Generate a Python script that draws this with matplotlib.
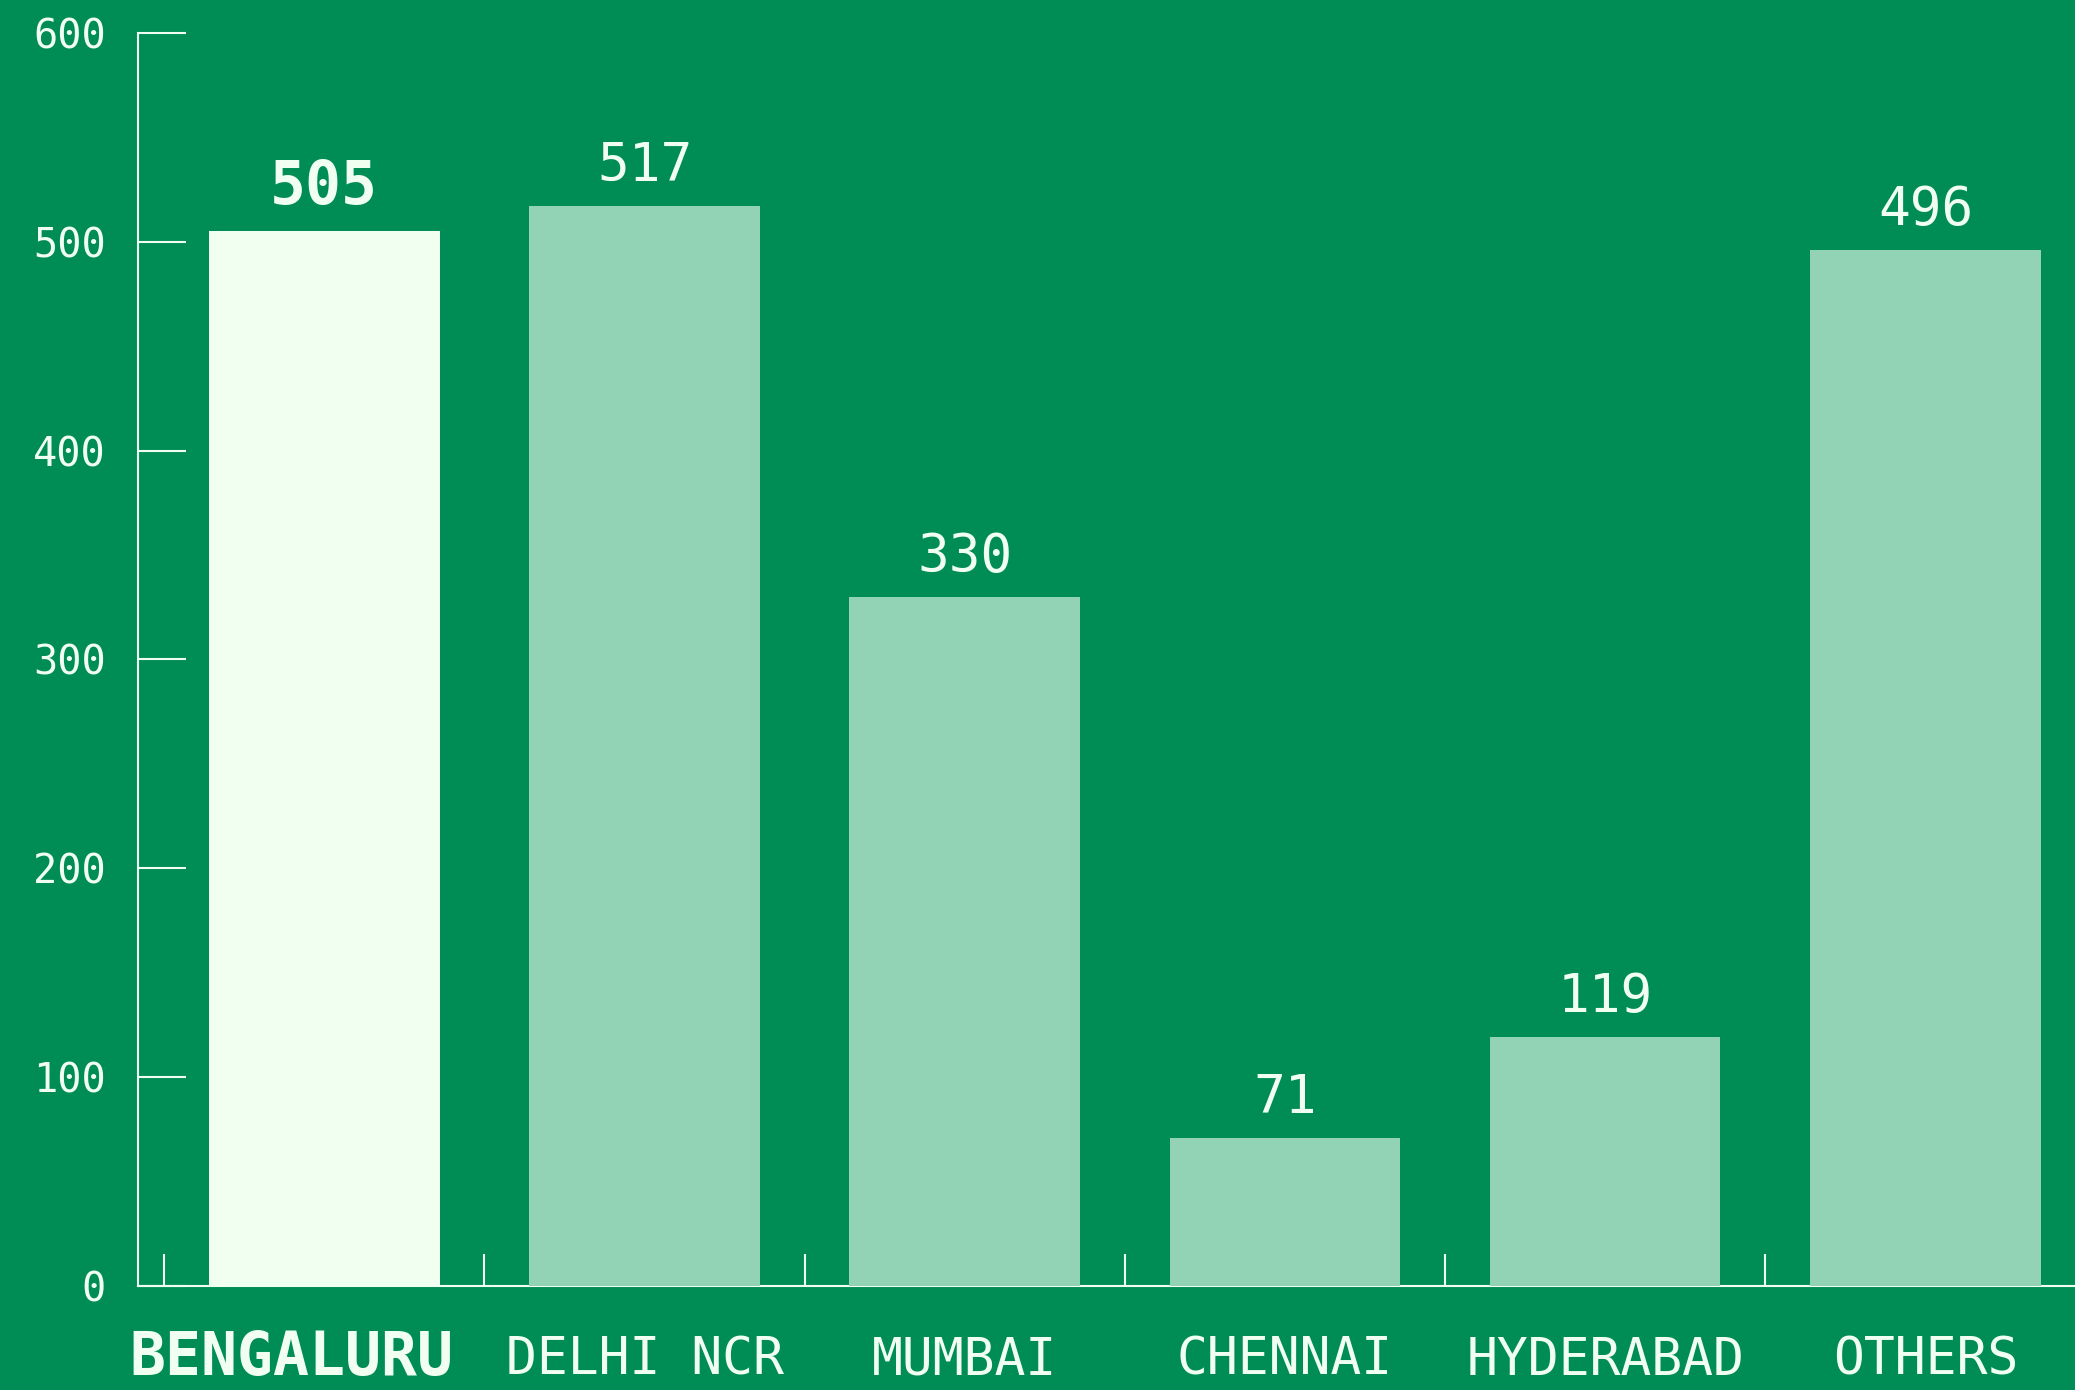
import matplotlib.pyplot as plt

cities = ["BENGALURU", "DELHI NCR", "MUMBAI", "CHENNAI", "HYDERABAD", "OTHERS"]
counts = [505, 517, 330, 71, 119, 496]
highlight = "BENGALURU"
y_ticks = [0, 100, 200, 300, 400, 500, 600]

bg = "#008d55"
pale = "#f0fff0"
bar_col = "#93d3b5"
mono = "DejaVu Sans Mono"

plt.close("all")
fig = plt.figure(figsize=(20.75, 13.9), dpi=100, facecolor=bg)
ax = fig.add_axes([0.0663, 0.0748, 1 - 0.0663, 0.9763 - 0.0748])
ax.set_facecolor(bg)

x = list(range(len(cities)))
colors = [pale if c == highlight else bar_col for c in cities]
ax.bar(x, counts, width=0.72, color=colors, zorder=3)

# value labels above the bars
for xi, c, v in zip(x, cities, counts):
    is_hl = c == highlight
    ax.annotate(str(v), (xi, v), xytext=(0, 19.5 if is_hl else 18),
                textcoords="offset points", ha="center", va="baseline",
                color=pale, fontsize=43 if is_hl else 38,
                fontweight="bold" if is_hl else "normal", family=mono)

ax.set_xlim(-0.583, 5.467)
ax.set_ylim(0, 600)

for s in ["top", "right"]:
    ax.spines[s].set_visible(False)
for s in ["left", "bottom"]:
    ax.spines[s].set_color(pale)
    ax.spines[s].set_linewidth(1.5)
    ax.spines[s].set_zorder(2)

ax.set_yticks(y_ticks)
ax.set_yticklabels([str(t) for t in y_ticks], family=mono, fontsize=29, color=pale)
ax.tick_params(axis="y", direction="in", length=34.6, width=1.5, color=pale, pad=23)

# category ticks sit between bars, labels centred under bars
ax.set_xticks([i - 0.5 for i in x])
ax.set_xticklabels([])
ax.tick_params(axis="x", direction="in", length=23, width=1.5, color=pale)
for xi, c in zip(x, cities):
    is_hl = c == highlight
    ax.annotate(c, (xi, 0), xycoords=("data", "axes fraction"),
                xytext=(-24 if is_hl else 0, -64), textcoords="offset points",
                ha="center", va="baseline", color=pale, family=mono,
                fontsize=43 if is_hl else 37,
                fontweight="bold" if is_hl else "normal",
                annotation_clip=False)

fig.savefig("out.png", dpi=100, facecolor=bg)
